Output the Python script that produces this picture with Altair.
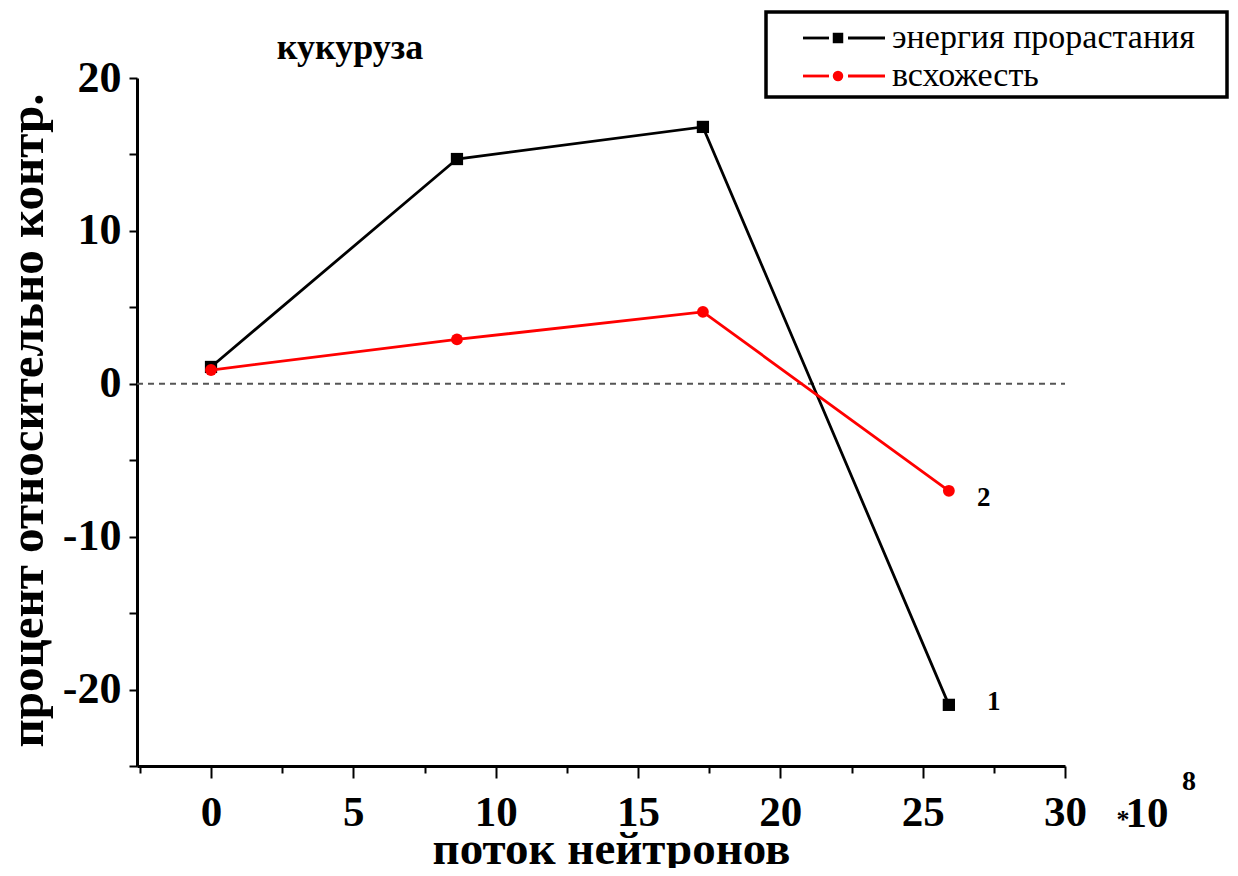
import altair as alt
import pandas as pd

# ---- data ----
flux = [0, 8.64, 17.28, 25.92]                 # поток нейтронов, *10^8
energy = [1.1, 14.7, 16.8, -21.0]              # энергия прорастания
germination = [0.9, 2.9, 4.7, -7.0]            # всхожесть
series_names = ["энергия прорастания", "всхожесть"]
series_colors = ["#000000", "#ff0000"]
series_shapes = ["square", "circle"]
end_labels = ["1", "2"]
x_ticks = [-2.5, 0, 2.5, 5, 7.5, 10, 12.5, 15, 17.5, 20, 22.5, 25, 27.5, 30]
y_ticks = [-25, -20, -15, -10, -5, 0, 5, 10, 15, 20]

FONT = "Liberation Serif"
W, H = 928, 688

xscale = alt.Scale(domain=[-2.6, 30], nice=False, zero=False)
yscale = alt.Scale(domain=[-25, 20], nice=False, zero=False)

xaxis = alt.Axis(
    values=x_ticks,
    labelExpr="datum.value % 5 === 0 ? '' + datum.value : ''",
    tickSize={"condition": {"test": "datum.value % 5 === 0", "value": 12}, "value": 7},
    tickWidth=2, tickColor="black",
    domainWidth=3, domainColor="black",
    labelFont=FONT, labelFontWeight="bold", labelFontSize=43, labelColor="black",
    labelPadding=13, labelFlush=False, labelOverlap=False,
    title="поток нейтронов", titleFont=FONT, titleFontWeight="bold",
    titleFontSize=47, titleColor="black", titleBaseline="alphabetic",
    titleX=474, titleY=97, titleAnchor="middle", titleAlign="center",
    grid=False,
)
yaxis = alt.Axis(
    values=y_ticks,
    labelExpr="datum.value % 10 === 0 ? '' + datum.value : ''",
    tickSize=8, tickWidth=2, tickColor="black",
    domainWidth=3, domainColor="black",
    labelFont=FONT, labelFontWeight="bold", labelFontSize=44, labelColor="black",
    labelPadding=8, labelFlush=False, labelOverlap=False,
    title="процент относительно контр.", titleFont=FONT, titleFontWeight="bold",
    titleFontSize=49, titleColor="black", titleBaseline="alphabetic",
    titleAngle=270, titleX=-95, titleY=342, titleAlign="center",
    grid=False,
)

X = alt.X("x:Q", scale=xscale, axis=xaxis)
Y = alt.Y("y:Q", scale=yscale, axis=yaxis)

df_energy = pd.DataFrame({"x": flux, "y": energy})
df_germ = pd.DataFrame({"x": flux, "y": germination})
one = pd.DataFrame({"a": [0]})

zero_line = alt.Chart(pd.DataFrame({"x": [-2.6, 30], "y": [0, 0]})).mark_line(
    strokeDash=[6, 5], color="#555555", strokeWidth=2
).encode(x=X, y=Y)

layers = [zero_line]
for df, color, shape, lab, dx, dy in [
    (df_energy, series_colors[0], series_shapes[0], end_labels[0], 45, -3),
    (df_germ, series_colors[1], series_shapes[1], end_labels[1], 35, 7),
]:
    base = alt.Chart(df)
    layers.append(base.mark_line(color=color, strokeWidth=2.8).encode(x=X, y=Y))
    layers.append(base.mark_point(shape=shape, filled=True, color=color, opacity=1,
                                  size=150 if shape == "square" else 140).encode(x=X, y=Y))
    last = pd.DataFrame({"x": [df["x"].iloc[-1]], "y": [df["y"].iloc[-1]], "t": [lab]})
    layers.append(alt.Chart(last).mark_text(font=FONT, fontWeight="bold", fontSize=27,
                                            color="black", dx=dx, dy=dy).encode(x=X, y=Y, text="t:N"))

# title inside the plot
layers.append(alt.Chart(one).mark_text(text="кукуруза", font=FONT, fontWeight="bold", fontSize=36,
                                       color="black", align="center", baseline="middle")
              .encode(x=alt.value(213), y=alt.value(-30)))

# *10^8
layers.append(alt.Chart(one).mark_text(text="*", font=FONT, fontWeight="bold", fontSize=26,
                                       color="black", align="center", baseline="middle")
              .encode(x=alt.value(986), y=alt.value(742)))
layers.append(alt.Chart(one).mark_text(text="10", font=FONT, fontWeight="bold", fontSize=43,
                                       color="black", align="center", baseline="middle")
              .encode(x=alt.value(1010), y=alt.value(736)))
layers.append(alt.Chart(one).mark_text(text="8", font=FONT, fontWeight="bold", fontSize=28,
                                       color="black", align="center", baseline="middle")
              .encode(x=alt.value(1052), y=alt.value(704)))

# legend box
layers.append(alt.Chart(one).mark_rect(fill="white", stroke="black", strokeWidth=3.5)
              .encode(x=alt.value(629), x2=alt.value(1090), y=alt.value(-66), y2=alt.value(19)))
for i, (name, color, shape) in enumerate(zip(series_names, series_colors, series_shapes)):
    ly = -40 + 38 * i
    for xa, xb in [(666, 692), (711, 748)]:
        layers.append(alt.Chart(one).mark_rule(color=color, strokeWidth=2.8)
                      .encode(x=alt.value(xa), x2=alt.value(xb), y=alt.value(ly)))
    layers.append(alt.Chart(one).mark_point(shape=shape, filled=True, color=color, opacity=1,
                                            size=110)
                  .encode(x=alt.value(701), y=alt.value(ly)))
    layers.append(alt.Chart(one).mark_text(text=name, font=FONT, fontSize=34, color="black",
                                           align="left", baseline="middle")
                  .encode(x=alt.value(755), y=alt.value(ly)))

chart = alt.layer(*layers).properties(
    width=W, height=H,
    autosize=alt.AutoSizeParams(type="none"),
    padding={"left": 129, "top": 70, "right": 165, "bottom": 102},
    background="white",
).configure_view(stroke=None)

chart.save("out.html", embed_options={"renderer": "svg", "actions": False})
